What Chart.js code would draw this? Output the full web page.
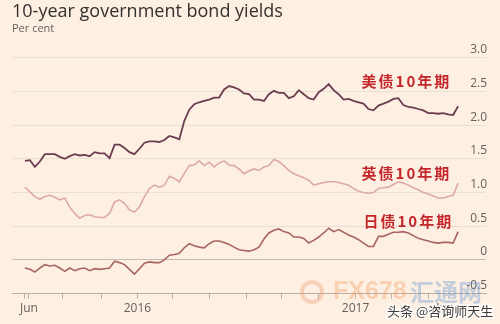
<!DOCTYPE html>
<html>
<head>
<meta charset="utf-8">
<script src="https://cdn.jsdelivr.net/npm/chart.js@4.4.1/dist/chart.umd.min.js"></script>
<style>
  html, body { margin: 0; padding: 0; background: #fdf0e2; }
  canvas { display: block; }
</style>
</head>
<body>
<canvas id="bondChart" width="500" height="324"></canvas>
<script>
// 10-year yields, per cent, one reading per observation (roughly weekly)
var usYield = [1.47, 1.48, 1.38, 1.46, 1.57, 1.57, 1.57, 1.53, 1.50, 1.54, 1.57, 1.55, 1.56, 1.54, 1.60, 1.58, 1.58, 1.51,
  1.71, 1.71, 1.66, 1.60, 1.57, 1.65, 1.74, 1.76, 1.76, 1.75, 1.78, 1.84, 1.82, 1.79, 2.06, 2.23, 2.31, 2.34, 2.36, 2.38,
  2.41, 2.41, 2.53, 2.58, 2.56, 2.53, 2.47, 2.46, 2.38, 2.38, 2.36, 2.46, 2.51, 2.48, 2.48, 2.40, 2.43, 2.52, 2.46, 2.40,
  2.38, 2.49, 2.54, 2.61, 2.52, 2.46, 2.38, 2.39, 2.36, 2.34, 2.32, 2.24, 2.22, 2.29, 2.32, 2.35, 2.39, 2.40, 2.30, 2.27,
  2.26, 2.24, 2.22, 2.18, 2.18, 2.17, 2.18, 2.16, 2.15, 2.28];
var ukYield = [1.08, 1.01, 0.94, 0.90, 0.94, 0.96, 0.93, 0.89, 0.92, 0.78, 0.69, 0.62, 0.66, 0.67, 0.64, 0.63, 0.63, 0.69,
  0.86, 0.89, 0.84, 0.74, 0.71, 0.79, 0.94, 1.06, 1.11, 1.08, 1.11, 1.24, 1.21, 1.16, 1.28, 1.40, 1.41, 1.47, 1.40, 1.45,
  1.38, 1.44, 1.47, 1.41, 1.40, 1.35, 1.28, 1.32, 1.35, 1.33, 1.38, 1.40, 1.49, 1.46, 1.40, 1.33, 1.28, 1.25, 1.22, 1.18,
  1.11, 1.13, 1.15, 1.16, 1.16, 1.15, 1.13, 1.11, 1.06, 1.02, 1.00, 0.99, 1.00, 1.06, 1.07, 1.08, 1.12, 1.16, 1.14, 1.11,
  1.07, 1.04, 1.00, 0.98, 0.95, 0.92, 0.92, 0.94, 0.96, 1.14];
var thirdYield = [-0.12, -0.14, -0.18, -0.12, -0.07, -0.09, -0.08, -0.12, -0.17, -0.12, -0.16, -0.13, -0.12, -0.16, -0.13,
  -0.14, -0.13, -0.12, -0.02, -0.04, -0.07, -0.14, -0.21, -0.13, -0.05, -0.03, -0.04, -0.04, 0.00, 0.07, 0.08, 0.10, 0.18,
  0.24, 0.21, 0.19, 0.18, 0.24, 0.28, 0.28, 0.26, 0.23, 0.19, 0.15, 0.14, 0.13, 0.15, 0.19, 0.31, 0.40, 0.44, 0.46, 0.42,
  0.40, 0.34, 0.34, 0.32, 0.25, 0.29, 0.34, 0.40, 0.47, 0.42, 0.45, 0.41, 0.37, 0.34, 0.30, 0.25, 0.20, 0.20, 0.35, 0.35,
  0.38, 0.41, 0.41, 0.42, 0.40, 0.36, 0.32, 0.30, 0.28, 0.26, 0.25, 0.26, 0.26, 0.25, 0.42];

// x axis ticks (observation index) and their labels
var xTickPos = [0, 0.8, 7.6, 15.4, 22.6, 29.6, 37, 44.4, 51.6, 59, 66.4, 73.6, 81, 84.4];
var xTickLabels = ['', 'Jun', '', '', '2016', '', '', '', '', '', '2017', '', '', 'Jun'];

// annotation labels: text, observation index, yield level
var noteText = ['美债10年期', '英债10年期', '日债10年期'];
var noteAt = [67.6, 67.6, 68];
var noteLevel = [2.65, 1.28, 0.57];

function toPoints(arr) {
  return arr.map(function (v, i) { return { x: i, y: v }; });
}

var notesPlugin = {
  id: 'notes',
  afterDatasetsDraw: function (chart) {
    var ctx = chart.ctx;
    var xs = chart.scales.x, ys = chart.scales.y;
    ctx.save();
    ctx.font = 'bold 15px "Noto Sans CJK SC"';
    ctx.letterSpacing = '2px';
    ctx.fillStyle = '#c4262c';
    ctx.textAlign = 'left';
    ctx.textBaseline = 'middle';
    for (var n = 0; n < noteText.length; n++) {
      ctx.fillText(noteText[n], xs.getPixelForValue(noteAt[n]), ys.getPixelForValue(noteLevel[n]));
    }
    ctx.restore();
  },
  afterDraw: function (chart) {
    // watermarks over the bottom right corner
    var ctx = chart.ctx;
    ctx.save();
    ctx.textBaseline = 'middle';
    ctx.font = 'bold 25px "Liberation Sans"';
    ctx.fillStyle = 'rgba(240, 150, 90, 0.35)';
    ctx.fillText('FX678', 333, 292);
    ctx.font = 'bold 24px "Noto Sans CJK SC"';
    ctx.fillStyle = 'rgba(90, 140, 205, 0.35)';
    ctx.fillText('汇通网', 410, 292);
    ctx.beginPath();
    ctx.arc(312, 292, 10, 0, Math.PI * 2);
    ctx.lineWidth = 4;
    ctx.strokeStyle = 'rgba(235, 130, 90, 0.3)';
    ctx.stroke();
    ctx.font = '13px "Noto Sans CJK SC"';
    ctx.lineWidth = 3;
    ctx.strokeStyle = 'rgba(255, 255, 255, 0.8)';
    ctx.strokeText('头条 @咨询师天生', 387, 311);
    ctx.fillStyle = '#3b3b3b';
    ctx.fillText('头条 @咨询师天生', 387, 311);
    ctx.restore();
  }
};

var ctx = document.getElementById('bondChart').getContext('2d');
var chart = new Chart(ctx, {
  type: 'line',
  data: {
    datasets: [{
      label: 'US',
      data: toPoints(usYield),
      borderColor: '#6b3d50',
      borderWidth: 1.8
    }, {
      label: 'UK',
      data: toPoints(ukYield),
      borderColor: '#dcaaa8',
      borderWidth: 1.6
    }, {
      label: 'Third',
      data: toPoints(thirdYield),
      borderColor: '#a8645f',
      borderWidth: 1.6
    }]
  },
  options: {
    responsive: false,
    animation: false,
    events: [],
    elements: { point: { radius: 0 }, line: { tension: 0 } },
    layout: { padding: { top: 1, left: 12, right: 12, bottom: 5 } },
    plugins: {
      legend: { display: false },
      tooltip: { enabled: false },
      title: {
        display: true,
        text: '10-year government bond yields',
        align: 'start',
        color: '#33302e',
        font: { family: 'Open Sans', size: 18, weight: 'normal' },
        padding: { top: 0, bottom: 0 }
      },
      subtitle: {
        display: true,
        text: 'Per cent',
        align: 'start',
        color: '#66605c',
        font: { family: 'Open Sans', size: 11 },
        padding: { top: 0, bottom: 22 }
      }
    },
    scales: {
      x: {
        type: 'linear',
        min: -2.6,
        max: 92.6,
        afterBuildTicks: function (axis) {
          axis.ticks = xTickPos.map(function (v) { return { value: v }; });
        },
        grid: {
          drawOnChartArea: false,
          tickLength: 5,
          tickColor: function (c) { return c.index === xTickPos.length - 1 ? 'rgba(0,0,0,0)' : '#b9afa5'; }
        },
        border: { color: '#b9afa5', width: 1 },
        ticks: {
          autoSkip: false,
          maxRotation: 0,
          padding: 3,
          color: '#66605c',
          font: { family: 'Open Sans', size: 12 },
          callback: function (value, index) { return xTickLabels[index]; }
        }
      },
      y: {
        position: 'right',
        min: -0.5,
        max: 3.0,
        grid: {
          drawTicks: false,
          color: function (c) { return c.tick && c.tick.value === 0 ? '#c6bbb0' : '#e9dfd2'; }
        },
        border: { display: false },
        ticks: {
          stepSize: 0.5,
          mirror: true,
          labelOffset: -8,
          padding: 1,
          color: '#66605c',
          font: { family: 'Open Sans', size: 12 },
          callback: function (v) { return v === 0 ? '0' : v.toFixed(1); }
        }
      }
    }
  },
  plugins: [notesPlugin]
});
</script>
</body>
</html>
